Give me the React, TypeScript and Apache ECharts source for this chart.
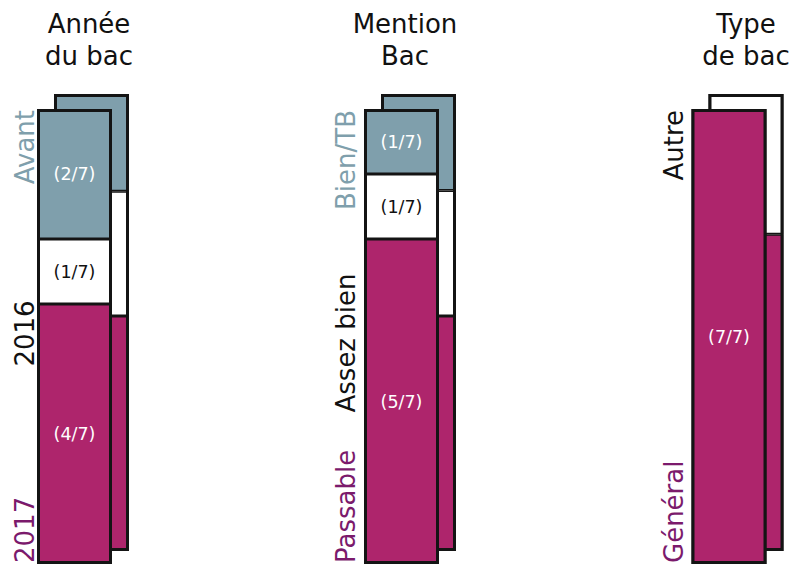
import React, { useEffect, useRef } from "react";
import * as echarts from "echarts";

// ---- data ----
const titles = ["Année\ndu bac", "Mention\nBac", "Type\nde bac"];
const total = 7;

const yearCats = ["2017", "2016", "Avant"];
const yearCounts = [4, 1, 2];
const yearRef = [51.4, 27.3, 21.3];

const mentionCats = ["Passable", "Assez bien", "Bien/TB"];
const mentionCounts = [5, 1, 1];
const mentionRef = [51.4, 27.5, 21.1];

const typeCats = ["Général", "Autre"];
const typeCounts = [7, 0];
const typeRef = [69.3, 30.7];

const columns = [
  { title: titles[0], cats: yearCats, counts: yearCounts, ref: yearRef },
  { title: titles[1], cats: mentionCats, counts: mentionCounts, ref: mentionRef },
  { title: titles[2], cats: typeCats, counts: typeCounts, ref: typeRef },
];

// ---- style / layout ----
const MAGENTA = "#ae256c";
const GRAY = "#7f9fac";
const WHITE = "#ffffff";
const BORDER = "#141414";
const segFill = [MAGENTA, WHITE, GRAY];
const segValueLabel = ["#ffffff", "#111111", "#ffffff"];
const segCatLabel = ["#7b1a6c", "#111111", "#7f9fac"];

const FONT = '"DejaVu Sans", Verdana, sans-serif';
const frontLeft = [37, 364, 691.5];
const backDx = 17;
const barW = 75;
const frontTop = 109;
const frontH = 455;
const backTop = 94;
const backH = 457;
const titleX = [89, 405, 746];
const catLabelX = [38, 359, 687];
const middleLabelY = [333.5, 343, 336];

export default function App() {
  const ref = useRef<HTMLDivElement>(null);
  useEffect(() => {
    document.body.style.margin = "0";
    const chart = echarts.init(ref.current!, null, { renderer: "svg" });

    const grid: any[] = [];
    const xAxis: any[] = [];
    const yAxis: any[] = [];
    const series: any[] = [];
    const graphic: any[] = [];

    const addColumn = (
      c: number,
      left: number,
      top: number,
      height: number,
      values: number[],
      max: number,
      layer: string,
      withLabels: boolean
    ) => {
      const gi = grid.length;
      grid.push({ left, top, width: barW, height });
      xAxis.push({ type: "category", gridIndex: gi, data: ["x"], show: false });
      yAxis.push({ type: "value", gridIndex: gi, min: 0, max, show: false });
      values.forEach((v, s) => {
        series.push({
          type: "bar",
          name: `${layer}-${c}-${s}`,
          xAxisIndex: gi,
          yAxisIndex: gi,
          stack: `${layer}-${c}`,
          barWidth: "100%",
          barGap: "-100%",
          data: [v > 0 ? v : null],
          itemStyle: { color: segFill[s], borderColor: BORDER, borderWidth: 1.5 },
          label: withLabels
            ? {
                show: true,
                position: "inside",
                formatter: (p: any) => `(${p.value}/${total})`,
                color: segValueLabel[s],
                fontFamily: FONT,
                fontSize: 17.5,
              }
            : { show: false },
          silent: true,
        });
      });
      // outline of whole column
      series.push({
        type: "bar",
        name: `${layer}-${c}-outline`,
        xAxisIndex: gi,
        yAxisIndex: gi,
        barWidth: "100%",
        barGap: "-100%",
        data: [max],
        itemStyle: { color: "rgba(0,0,0,0)", borderColor: BORDER, borderWidth: 3 },
        label: { show: false },
        silent: true,
      });
    };

    // back layer first
    columns.forEach((col, c) => {
      addColumn(c, frontLeft[c] + backDx, backTop, backH, col.ref, 100, "back", false);
    });

    // front layer
    columns.forEach((col, c) => {
      addColumn(c, frontLeft[c], frontTop, frontH, col.counts, total, "front", true);

      graphic.push({
        type: "text",
        x: titleX[c],
        y: 8,
        style: {
          text: col.title,
          font: `26px ${FONT}`,
          fill: "#111",
          align: "center",
          verticalAlign: "top",
          lineHeight: 32,
        },
      });

      const n = col.cats.length;
      col.cats.forEach((name, s) => {
        let y: number;
        let align: string;
        if (s === 0) {
          y = frontTop + frontH - 1;
          align = "left";
        } else if (s === n - 1) {
          y = frontTop + 1;
          align = "right";
        } else {
          y = middleLabelY[c];
          align = "center";
        }
        graphic.push({
          type: "text",
          x: catLabelX[c],
          y,
          rotation: Math.PI / 2,
          style: {
            text: name,
            font: `26px ${FONT}`,
            fill: segCatLabel[s],
            align,
            verticalAlign: "bottom",
          },
        });
      });
    });

    chart.setOption({
      animation: false,
      backgroundColor: "#ffffff",
      grid,
      xAxis,
      yAxis,
      series,
      graphic,
    });
    return () => chart.dispose();
  }, []);
  return <div ref={ref} style={{ width: 790, height: 566 }} />;
}
